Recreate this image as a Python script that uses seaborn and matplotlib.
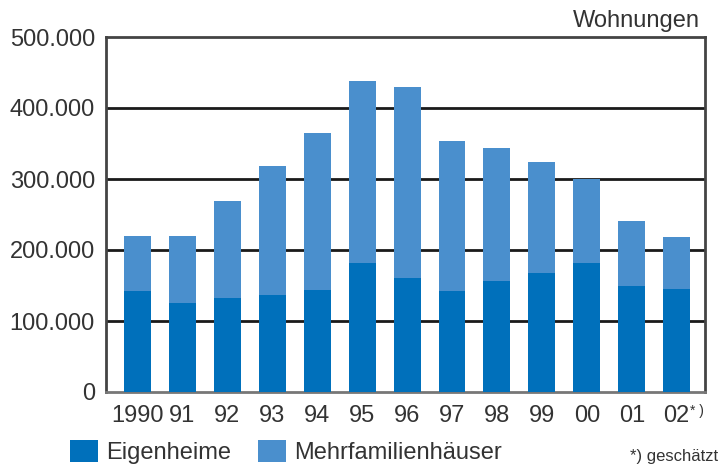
import matplotlib
matplotlib.use("Agg")
import matplotlib.pyplot as plt
from matplotlib.patches import Patch
import seaborn as sns
import pandas as pd

# Fertiggestellte Wohnungen
jahre = ["1990", "91", "92", "93", "94", "95", "96", "97", "98", "99", "00", "01", "02"]
eigenheime = [142000, 125000, 132000, 137000, 144000, 182000, 161000, 142000, 156000, 168000, 182000, 149000, 145000]
mehrfamilien = [78000, 95000, 137000, 181000, 221000, 256000, 269000, 212000, 188000, 156000, 118000, 92000, 73000]
y_ticks = [0, 100000, 200000, 300000, 400000, 500000]

dunkel = "#0070bb"
hell = "#4a8fcd"
text_col = "#333333"

df = pd.DataFrame({"jahr": jahre, "eigen": eigenheime, "mehr": mehrfamilien})
df["gesamt"] = df["eigen"] + df["mehr"]

sns.set_style("white")
plt.rcParams["font.family"] = ["Liberation Sans", "DejaVu Sans"]
plt.rcParams["text.color"] = text_col

fig = plt.figure(figsize=(7.19, 4.66), dpi=100)
ax = fig.add_axes([106 / 719, 74 / 466, 599 / 719, 355 / 466])

sns.barplot(data=df, x="jahr", y="gesamt", color=hell, saturation=1, width=0.6,
            errorbar=None, ax=ax, zorder=3, linewidth=0)
sns.barplot(data=df, x="jahr", y="eigen", color=dunkel, saturation=1, width=0.6,
            errorbar=None, ax=ax, zorder=3, linewidth=0)

ax.set_ylim(0, 500000)
ax.set_xlim(-0.70, 12.63)
ax.set_yticks(y_ticks)
ax.set_yticklabels([f"{v:,.0f}".replace(",", ".") for v in y_ticks])
ax.set_xlabel("")
ax.set_ylabel("")
ax.tick_params(axis="both", length=0, labelsize=17, labelcolor=text_col)
ax.tick_params(axis="y", pad=8)
ax.tick_params(axis="x", pad=9)

# Gitterlinien hinter den Balken
for v in y_ticks[1:-1]:
    ax.axhline(v, color="#1a1a1a", lw=2, zorder=1)
for s in ["top", "left", "right"]:
    ax.spines[s].set_color("#444444")
    ax.spines[s].set_linewidth(2)
ax.spines["bottom"].set_color("#777777")
ax.spines["bottom"].set_linewidth(2)

# Fussnotenzeichen am letzten Jahr
ax.annotate("* )", xy=(12, 0), xycoords=("data", "axes fraction"),
            xytext=(9.5, -9), textcoords="offset points", fontsize=10,
            color=text_col, ha="left", va="top")

fig.text(700 / 719, 1 - 27 / 466, "Wohnungen", ha="right", va="baseline",
         fontsize=17, color=text_col)
fig.text(718 / 719, 1 - 461 / 466, "*) geschätzt", ha="right", va="baseline",
         fontsize=12, color=text_col)

handles = [Patch(facecolor=dunkel, edgecolor="none"), Patch(facecolor=hell, edgecolor="none")]
fig.legend(handles, ["Eigenheime", "Mehrfamilienhäuser"], loc="lower left",
           bbox_to_anchor=(70 / 719, 2 / 466), ncol=2, frameon=False, fontsize=17,
           handlelength=1.2, handleheight=1.05, handletextpad=0.35,
           columnspacing=1.1, borderpad=0, borderaxespad=0)

fig.savefig("out.png", dpi=100)
